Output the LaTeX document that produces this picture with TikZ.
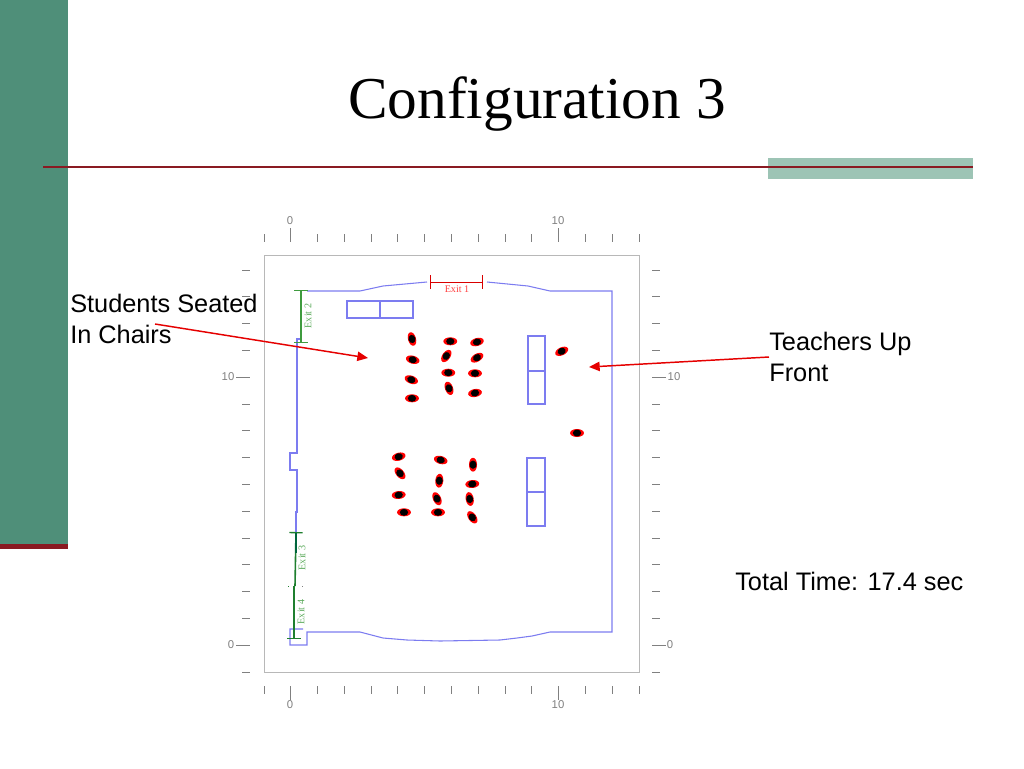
\documentclass[tikz,border=0pt]{standalone}
\usepackage{fontspec}
\setmainfont{Liberation Serif}
\setsansfont{Liberation Sans}
\usetikzlibrary{arrows.meta, positioning}

\definecolor{sidegreen}{HTML}{4F8F79}
\definecolor{palegreen}{HTML}{9DC4B5}
\definecolor{darkred}{HTML}{8A1A22}
\definecolor{wallblue}{HTML}{7C7CF0}
\definecolor{exitgreen}{HTML}{3F9B3F}
\definecolor{exitdark}{HTML}{1F7F2F}

\tikzstyle{wall} = [draw=wallblue, line width=0.8pt]
\tikzstyle{desk} = [draw=wallblue, line width=0.8pt, inner sep=0pt, outer sep=0pt]
\tikzstyle{tick} = [draw=gray, line width=0.7pt]
\tikzstyle{ticklabel} = [text=gray, font=\sffamily\fontsize{8.5}{10}\selectfont, inner sep=0pt]
\tikzstyle{exitlabel} = [font=\fontsize{7.6}{9}\selectfont, inner sep=0pt]
\tikzstyle{exitbar} = [{Bar[width=10pt,line width=1pt]}-{Bar[width=10pt,line width=1pt]}]
\tikzstyle{slidetext} = [font=\sffamily\fontsize{19}{23}\selectfont, align=left, anchor=west, inner sep=0pt]
\tikzstyle{callout} = [draw=red!90!black, line width=1.1pt, -{Triangle[length=8pt,width=7pt]}]

\begin{document}
\begin{tikzpicture}[x=0.75pt, y=-0.75pt]

\useasboundingbox (0,0) rectangle (1024,768);

% slide frame
\fill[sidegreen] (0,0) rectangle (68,544);
\fill[darkred] (0,544) rectangle (68,549);
\fill[palegreen] (768,158) rectangle (973,179);
\draw[darkred, line width=1.5pt] (43,167) -- (973,167);

\node[font=\fontsize{44.5}{50}\selectfont] (title) at (537,104) {Configuration 3};

% axes
\draw[draw=black!28, line width=0.75pt] (264,255) rectangle (639,672);
\foreach \i in {0,...,14} {
    \draw[tick] ({264+26.79*\i},234) -- ++(0,8);
    \draw[tick] ({264+26.79*\i},686) -- ++(0,8);
}
\foreach \i in {1,11} {
    \draw[tick] ({264+26.79*\i},228) -- ++(0,14);
    \draw[tick] ({264+26.79*\i},686) -- ++(0,14);
}
\foreach \i in {0,...,15} {
    \draw[tick] (242,{270+26.8*\i}) -- ++(8,0);
    \draw[tick] (652,{270+26.8*\i}) -- ++(8,0);
}
\foreach \i in {4,14} {
    \draw[tick] (236,{270+26.8*\i}) -- ++(14,0);
    \draw[tick] (652,{270+26.8*\i}) -- ++(14,0);
}

\node[ticklabel] (top0) at (290,221) {0};
\node[ticklabel] (top10) at (558,221) {10};
\node[ticklabel] (bot0) at (290,705) {0};
\node[ticklabel] (bot10) at (558,705) {10};
\node[ticklabel] (left10) at (228,377) {10};
\node[ticklabel] (left0) at (231,645) {0};
\node[ticklabel] (right10) at (674,377) {10};
\node[ticklabel] (right0) at (670,645) {0};

% room outline
\draw[wall] (487,282) -- (528,286) -- (550,291) -- (612,291) -- (612,632)
    -- (550,632) -- (532,636) -- (517,638) -- (500,640) -- (440,641)
    -- (407,640) -- (383,638) -- (360,632) -- (307,632) -- (307,645)
    -- (290,645) -- (290,629) -- (303,629);
\draw[wall] (427,282) -- (383,286) -- (360,291) -- (307,291);
\draw[wall] (302,339) -- (297,339) -- (297,453) -- (290,453) -- (290,470)
    -- (297,470) -- (297,512) -- (296,512) -- (296,532);

% desks
\node[desk, minimum width=24.75pt, minimum height=12.75pt, anchor=north west] (desk1) at (347,301) {};
\node[desk, minimum width=24.75pt, minimum height=12.75pt, right=0pt of desk1] (desk1b) {};
\node[desk, minimum width=12.75pt, minimum height=26.25pt, anchor=north west] (desk2) at (528,336) {};
\node[desk, minimum width=12.75pt, minimum height=24.75pt, below=0pt of desk2] (desk3) {};
\node[desk, minimum width=13.5pt, minimum height=25.5pt, anchor=north west] (desk4) at (527,458) {};
\node[desk, minimum width=13.5pt, minimum height=25.5pt, below=0pt of desk4] (desk5) {};

% exits
\coordinate (exit1a) at (430,282);
\coordinate (exit1b) at (483,282);
\coordinate (exit2a) at (301,290);
\coordinate (exit2b) at (301,343);
\coordinate (exit3a) at (296,532);
\coordinate (exit3b) at (295,586);
\coordinate (exit4a) at (294,586);
\coordinate (exit4b) at (294,639);

\draw[exitbar, draw=red!85!black, line width=0.7pt] (exit1a) -- (exit1b);
\draw[exitbar, draw=exitgreen, line width=1.2pt] (exit2a) -- (exit2b);
\draw[{Bar[width=10pt,line width=1pt]}-, draw=exitdark, line width=1.2pt] (exit3a) -- (exit3b);
\draw[-{Bar[width=10pt,line width=1pt]}, draw=exitdark, line width=1.2pt] (exit4a) -- (exit4b);
\draw[draw=black!60!blue!60!green, line width=1.2pt] (296,533) -- (296,553);
\fill[exitdark] (288,585.5) rectangle (289,586.5);
\fill[gray] (301.5,585.5) rectangle (302.5,586.5);

\node[exitlabel, text=red!75] (exit1) at (457,289) {Exit 1};
\node[exitlabel, text=exitgreen!85, rotate=90] (exit2) at (308,316) {Exit 2};
\node[exitlabel, text=exitgreen!85, rotate=90] (exit3) at (302,558) {Exit 3};
\node[exitlabel, text=exitgreen!85, rotate=90] (exit4) at (301,612) {Exit 4};

% people
\foreach \x/\y/\a in {
    412/339/-75, 412.7/359.7/-15, 411.3/379.7/-20, 412/398.3/0,
    450.3/341.3/0, 446.3/356/55, 448.3/372.7/0, 449/388.3/-70,
    477/342/15, 477/357.7/30, 475/373.3/0, 475/393/10,
    561.7/351.3/25, 577/433/0,
    398.7/456.7/15, 400/473.3/-50, 398.7/495/5, 404/512.3/0,
    440.7/460/-15, 439.3/480.7/85, 437/498.7/-65, 438/512.3/0,
    473/464.7/90, 472.3/484/5, 469.7/499/-80, 472.3/517.3/-55
} {
    \fill[red, shift={(\x,\y)}, rotate=\a] (0,0) ellipse [x radius=5.2pt, y radius=3pt];
    \fill[black, shift={(\x,\y)}, rotate=\a] (0,0) ellipse [x radius=3.1pt, y radius=2.6pt];
}

% labels
\node[slidetext] (students) at (70,319) {Students Seated\\In Chairs};
\node[slidetext] (teachers) at (769,357) {Teachers Up\\Front};
\node[slidetext] (total) at (735,581) {Total Time: 17.4 sec};

\coordinate (studentsfrom) at (155,324);
\coordinate (studentsto) at (368,358);
\coordinate (teachersto) at (589,367);
\draw[callout] (studentsfrom) -- (studentsto);
\draw[callout] (teachers.west) -- (teachersto);

\end{tikzpicture}
\end{document}
